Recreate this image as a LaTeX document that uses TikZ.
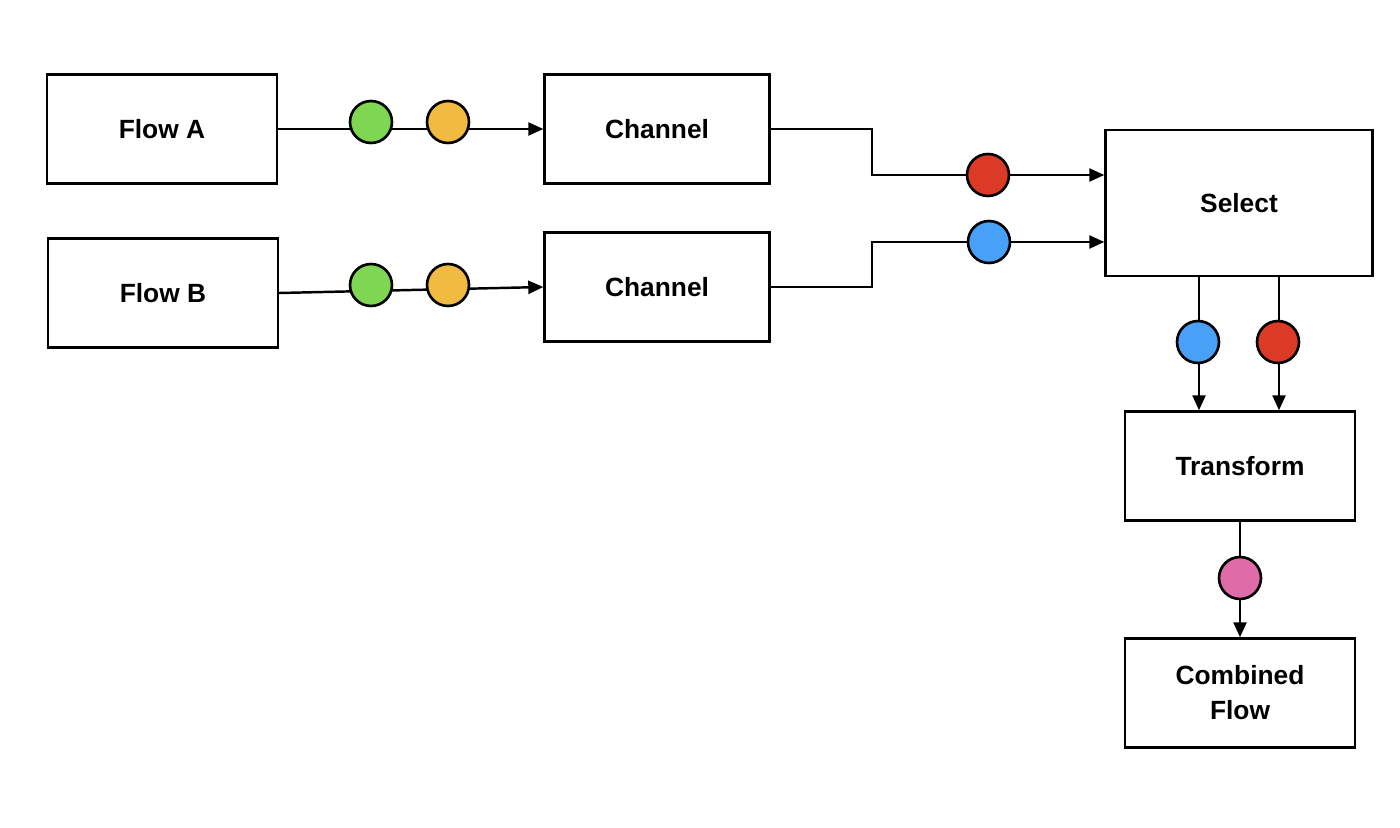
\documentclass[tikz,border=0pt]{standalone}
\usepackage{fontspec}
\setmainfont{Liberation Sans}
\usepackage{xcolor}
\usepackage{tikz}
\usetikzlibrary{positioning,arrows.meta}

\definecolor{tokgreen}{RGB}{126,214,82}
\definecolor{tokorange}{RGB}{240,187,64}
\definecolor{tokred}{RGB}{219,59,38}
\definecolor{tokblue}{RGB}{72,161,246}
\definecolor{tokpink}{RGB}{222,108,168}

\begin{document}
\begin{tikzpicture}[
			x=0.02cm, y=-0.02cm,
			block/.style={rectangle, draw=black, fill=white, line width=1.4pt, minimum width=4.6cm, minimum height=2.18cm, align=center, font=\bfseries\fontsize{15}{20}\selectfont},
			token/.style={circle, draw=black, line width=1.5pt, minimum size=0.84cm, inner sep=0pt},
			flow/.style={line width=1.4pt, -{Triangle[length=0.3cm, width=0.26cm]}}
		]
		\useasboundingbox (0,0) rectangle (1400,828);

		\node[block] (flowA) at (162,129) {Flow A};
		\node[block] (flowB) at (163,293) {Flow B};
		\node[block, minimum width=4.5cm] (chanA) at (657,129) {Channel};
		\node[block, minimum width=4.5cm] (chanB) at (657,287) {Channel};
		\node[block, minimum width=5.34cm, minimum height=2.92cm] (select) at (1239,203) {Select};
		\node[block] (transform) at (1240,466) {Transform};
		\node[block] (combined) at (1240,693) {Combined\\Flow};

		\coordinate (bendA) at (872,129);
		\coordinate (bendB) at (872,287);
		\coordinate (lineR) at (0,175);
		\coordinate (lineB) at (0,242);
		\coordinate (outB) at (1199,0);
		\coordinate (outR) at (1279,0);

		\draw[flow] (flowA) -- (chanA);
		\draw[flow] (flowB.east) -- (chanB.west);
		\draw[flow] (chanA.east) -- (bendA) |- (select.west |- lineR);
		\draw[flow] (chanB.east) -- (bendB) |- (select.west |- lineB);
		\draw[flow] (select.south -| outB) -- (transform.north -| outB);
		\draw[flow] (select.south -| outR) -- (transform.north -| outR);
		\draw[flow] (transform) -- (combined);

		\node[token, fill=tokgreen]  (gA) at (371,122) {};
		\node[token, fill=tokorange] (oA) at (448,122) {};
		\node[token, fill=tokgreen]  (gB) at (371,285) {};
		\node[token, fill=tokorange] (oB) at (448,285) {};
		\node[token, fill=tokred]    (rS) at (988,175) {};
		\node[token, fill=tokblue]   (bS) at (989,242) {};
		\node[token, fill=tokblue]   (bT) at (1198,342) {};
		\node[token, fill=tokred]    (rT) at (1278,342) {};
		\node[token, fill=tokpink]   (pC) at (1240,578) {};
\end{tikzpicture}
\end{document}
